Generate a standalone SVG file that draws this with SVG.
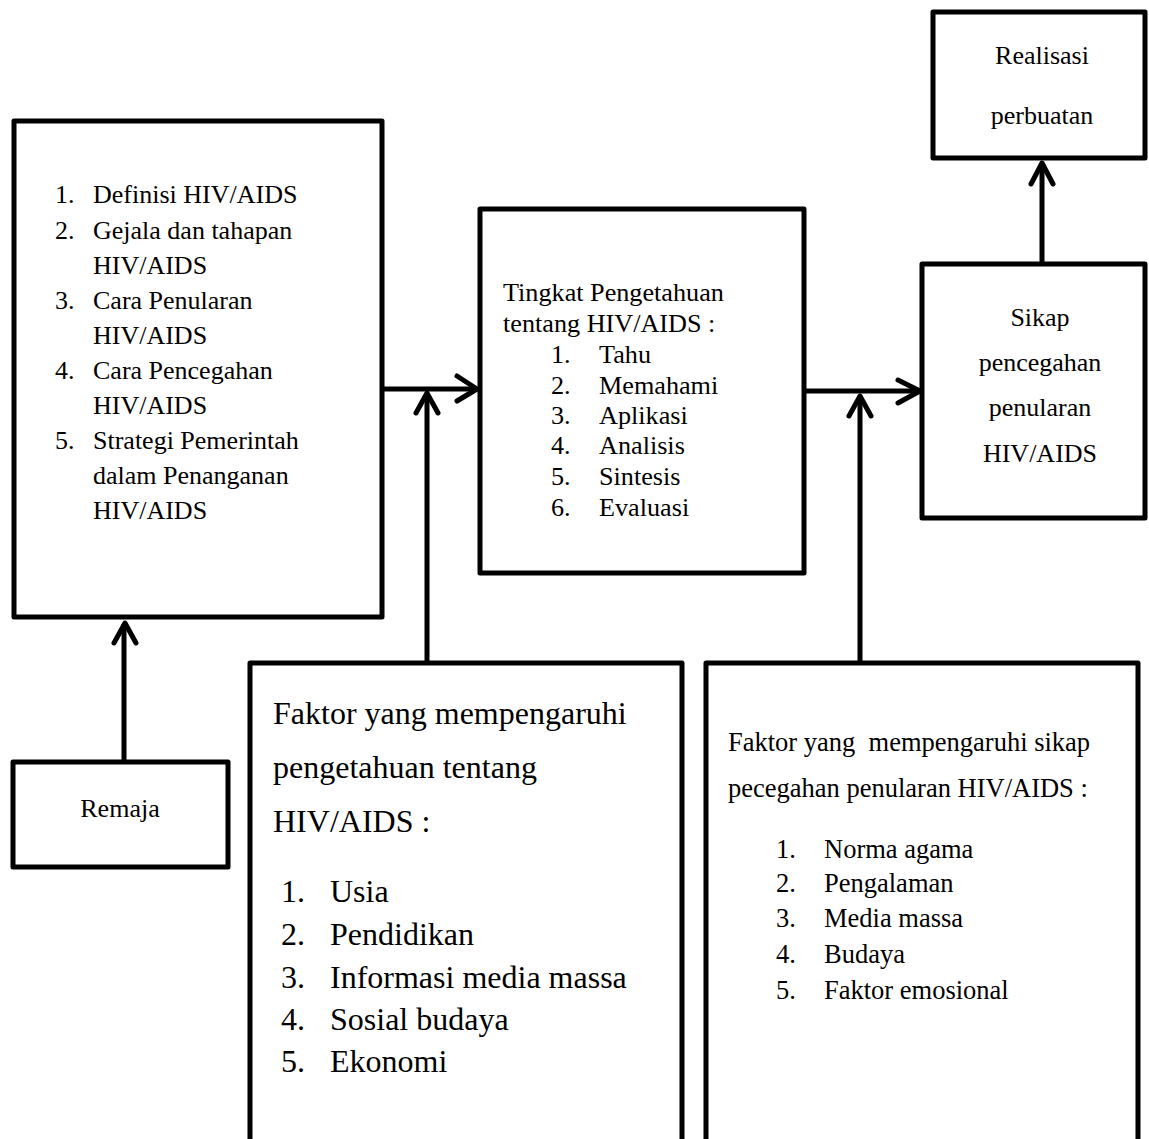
<svg xmlns="http://www.w3.org/2000/svg" width="1149" height="1139" viewBox="0 0 1149 1139">
<style>
.box{fill:#fff;stroke:#000;stroke-width:5;stroke-linejoin:round}
.open{fill:none;stroke:#000;stroke-width:5;stroke-linejoin:round}
.ln{fill:none;stroke:#000;stroke-width:5}
.hd{fill:none;stroke:#000;stroke-width:5;stroke-linecap:round;stroke-linejoin:round}
text{font-family:"Liberation Serif","Times New Roman",serif;fill:#000}
.t26{font-size:26px}
.t255{font-size:26.2px}
.t32{font-size:32px}
.t265{font-size:26.5px}
.c{text-anchor:middle}
</style>
<rect width="1149" height="1139" fill="#fff"/>
<g id="connectors">
  <path class="ln" d="M383 389H476"/>
  <path class="hd" d="M457 376L477 389L457 401"/>
  <path class="ln" d="M427 663V393"/>
  <path class="hd" d="M416 413L427 393L438 413"/>
  <path class="ln" d="M805 391H920"/>
  <path class="hd" d="M898 380L920 391L898 403"/>
  <path class="ln" d="M860 663V396"/>
  <path class="hd" d="M849 416L860 396L871 416"/>
  <path class="ln" d="M124 762V624"/>
  <path class="hd" d="M114 643L125 623L136 643"/>
  <path class="ln" d="M1042 264V163"/>
  <path class="hd" d="M1031 184L1042 163L1053 184"/>
</g>
<g id="node-materi">
  <rect class="box" x="14" y="121" width="368" height="496"/>
  <g class="t26">
    <text x="55" y="203">1.</text><text x="93" y="203">Definisi HIV/AIDS</text>
    <text x="55" y="239">2.</text><text x="93" y="239">Gejala dan tahapan</text>
    <text x="93" y="274">HIV/AIDS</text>
    <text x="55" y="309">3.</text><text x="93" y="309">Cara Penularan</text>
    <text x="93" y="344">HIV/AIDS</text>
    <text x="55" y="379">4.</text><text x="93" y="379">Cara Pencegahan</text>
    <text x="93" y="414">HIV/AIDS</text>
    <text x="55" y="449">5.</text><text x="93" y="449">Strategi Pemerintah</text>
    <text x="93" y="484">dalam Penanganan</text>
    <text x="93" y="519">HIV/AIDS</text>
  </g>
</g>
<g id="node-tingkat">
  <rect class="box" x="480" y="209" width="324" height="364"/>
  <g class="t255">
    <text x="503" y="301">Tingkat Pengetahuan</text>
    <text x="503" y="332">tentang HIV/AIDS :</text>
    <text x="551" y="363">1.</text><text x="599" y="363">Tahu</text>
    <text x="551" y="394">2.</text><text x="599" y="394">Memahami</text>
    <text x="551" y="424">3.</text><text x="599" y="424">Aplikasi</text>
    <text x="551" y="454">4.</text><text x="599" y="454">Analisis</text>
    <text x="551" y="485">5.</text><text x="599" y="485">Sintesis</text>
    <text x="551" y="516">6.</text><text x="599" y="516">Evaluasi</text>
  </g>
</g>
<g id="node-realisasi">
  <rect class="box" x="933" y="12" width="212" height="146"/>
  <text class="t26 c" x="1042" y="64">Realisasi</text>
  <text class="t26 c" x="1042" y="124">perbuatan</text>
</g>
<g id="node-sikap">
  <rect class="box" x="922" y="264" width="223" height="254"/>
  <text class="t26 c" x="1040" y="326">Sikap</text>
  <text class="t26 c" x="1040" y="371">pencegahan</text>
  <text class="t26 c" x="1040" y="416">penularan</text>
  <text class="t26 c" x="1040" y="462">HIV/AIDS</text>
</g>
<g id="node-remaja">
  <rect class="box" x="13" y="762" width="215" height="105"/>
  <text class="t26 c" x="120" y="817">Remaja</text>
</g>
<g id="node-faktor-pengetahuan">
  <path class="open" d="M250 1145V663H682V1145"/>
  <g class="t32">
    <text x="273" y="724">Faktor yang mempengaruhi</text>
    <text x="273" y="778">pengetahuan tentang</text>
    <text x="273" y="832">HIV/AIDS :</text>
    <text x="281" y="902">1.</text><text x="330" y="902">Usia</text>
    <text x="281" y="945">2.</text><text x="330" y="945">Pendidikan</text>
    <text x="281" y="988">3.</text><text x="330" y="988">Informasi media massa</text>
    <text x="281" y="1030">4.</text><text x="330" y="1030">Sosial budaya</text>
    <text x="281" y="1072">5.</text><text x="330" y="1072">Ekonomi</text>
  </g>
</g>
<g id="node-faktor-sikap">
  <path class="open" d="M706 1145V663H1138V1145"/>
  <g class="t265">
    <text x="728" y="751" xml:space="preserve">Faktor yang  mempengaruhi sikap</text>
    <text x="728" y="797">pecegahan penularan HIV/AIDS :</text>
    <text x="776" y="858">1.</text><text x="824" y="858">Norma agama</text>
    <text x="776" y="892">2.</text><text x="824" y="892">Pengalaman</text>
    <text x="776" y="927">3.</text><text x="824" y="927">Media massa</text>
    <text x="776" y="963">4.</text><text x="824" y="963">Budaya</text>
    <text x="776" y="999">5.</text><text x="824" y="999">Faktor emosional</text>
  </g>
</g>
</svg>
